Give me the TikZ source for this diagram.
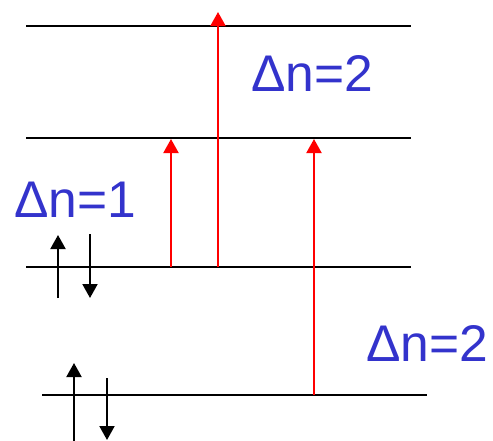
\documentclass[tikz,border=0pt]{standalone}
\usepackage{fontspec}
\setmainfont{Liberation Sans}
\usepackage{tikz}
\usepackage{xcolor}
\usetikzlibrary{arrows.meta, positioning}
\definecolor{cLabel}{RGB}{51,51,204}
\definecolor{cExcite}{RGB}{255,0,0}
\tikzset{
	level/.style   ={line width=0.06cm, black},
	excite/.style  ={-{Triangle[length=0.42cm, width=0.45cm]}, line width=0.06cm, cExcite},
	spin/.style    ={-{Triangle[length=0.42cm, width=0.45cm]}, line width=0.06cm, black},
	% labels
	dlabel/.style  ={anchor=base west, inner sep=0pt, text=cLabel, font=\fontsize{44}{50}\selectfont},
}

\begin{document}
\begin{tikzpicture}[x=0.03cm, y=-0.03cm]
	\useasboundingbox (0,0) rectangle (493,441);
	% energy levels
	\draw[level] (26,26) -- (411,26);
	\draw[level] (26,138) -- (411,138);
	\draw[level] (26,267) -- (411,267);
	\draw[level] (42,395) -- (427,395);
	% transitions
	\coordinate (tA0) at (171,267); \coordinate (tA1) at (171,139);
	\coordinate (tB0) at (218,267); \coordinate (tB1) at (218,12);
	\coordinate (tC0) at (314,395); \coordinate (tC1) at (314,139);
	\draw[excite] (tA0) -- (tA1);
	\draw[excite] (tB0) -- (tB1);
	\draw[excite] (tC0) -- (tC1);
	% electron pairs
	\coordinate (sA0) at (58,298);  \coordinate (sA1) at (58,235);
	\coordinate (sB0) at (90,234);  \coordinate (sB1) at (90,298);
	\coordinate (sC0) at (74,441);  \coordinate (sC1) at (74,363);
	\coordinate (sD0) at (107,378); \coordinate (sD1) at (107,440);
	\draw[spin] (sA0) -- (sA1);
	\draw[spin] (sB0) -- (sB1);
	\draw[spin] (sC0) -- (sC1);
	\draw[spin] (sD0) -- (sD1);
	\node[dlabel] (dn1) at (14,217) {Δn=1};
	\node[dlabel] (dn2a) at (251,91) {Δn=2};
	\node[dlabel] (dn2b) at (366,361) {Δn=2};
\end{tikzpicture}
\end{document}
